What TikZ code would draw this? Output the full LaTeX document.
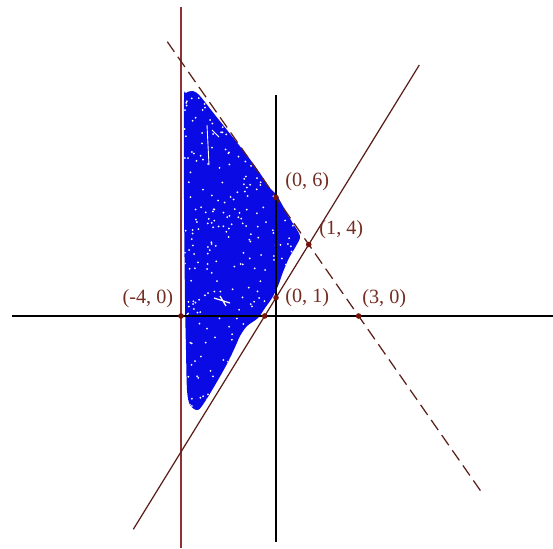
\documentclass[tikz,border=0pt]{standalone}
\usepackage{fontspec}
\setmainfont{Liberation Serif}
\usepackage{tkz-euclide}
\usetikzlibrary{positioning,calc}
\definecolor{BlobClr}{RGB}{10,10,228}
\definecolor{WallClr}{RGB}{140,50,50}
\definecolor{LineClr}{RGB}{90,30,25}
\definecolor{PointClr}{RGB}{115,20,10}
\definecolor{TextClr}{RGB}{115,45,35}
\tikzset{lbl/.style={inner sep=0pt,text=TextClr,font=\fontsize{11.5}{13}\selectfont},
  axis/.style={black,line width=.9pt},
  edge/.style={LineClr,line width=.7pt}}

\begin{document}
\begin{tikzpicture}[x=0.02cm,y=0.02cm]
\useasboundingbox (0,0) rectangle (553,-548);

\tkzDefPoint(12,-316){X1}
\tkzDefPoint(553,-316){X2}
\tkzDefPoint(276,-95){Y1}
\tkzDefPoint(276,-542){Y2}
\tkzDefPoint(181,-7){V1}
\tkzDefPoint(181,-548){V2}
\tkzDefPoint(167.3,-41.7){P1}
\tkzDefPoint(481.6,-492.3){P2}
\tkzDefPoint(133.3,-529.3){S1}
\tkzDefPoint(419.3,-65){S2}

\coordinate (A) at (intersection of V1--V2 and X1--X2);
\coordinate (B) at (intersection of S1--S2 and Y1--Y2);
\coordinate (C) at (intersection of P1--P2 and Y1--Y2);
\coordinate (D) at (intersection of S1--S2 and P1--P2);
\coordinate (E) at (intersection of P1--P2 and X1--X2);
\coordinate (F) at (intersection of S1--S2 and X1--X2);

% the cloud of points
\begin{scope}
\clip plot[smooth cycle,tension=.5] coordinates {(184,-100) (186,-93) (193,-91)
  (200,-96) (215,-115) (235,-140) (255,-166) (270,-188) (276,-194) (284,-208)
  (292,-222) (300,-236) (296,-246) (289,-258) (283,-272) (278,-286) (272,-298)
  (265,-308) (258,-318) (247,-326) (240,-336) (236,-345) (228,-362) (218,-380)
  (206,-400) (198,-410) (190,-405) (187,-390) (186,-350) (185,-300) (184,-200)};
\fill[BlobClr] (175,-85) rectangle (305,-415);
\pgfmathsetseed{42}
\foreach \k in {1,...,340}{
  \pgfmathsetmacro{\sx}{184+116*rnd}
  \pgfmathsetmacro{\sy}{-90-320*rnd}
  \fill[white] (\sx,\sy) circle (1);
}
\draw[white,line width=.5pt] (207,-125) -- (209,-165) (212,-130) -- (219,-137);
\draw[white,line width=.7pt] (214,-298) -- (230,-303) (220,-296) -- (226,-306);
\end{scope}

\draw[WallClr,line width=1pt] (V1) -- (V2);
\draw[axis] (X1) -- (X2);
\draw[axis] (Y1) -- (Y2);
\draw[edge] (S1) -- (S2);
\draw[edge,dash pattern=on 7pt off 3.5pt] (P1) -- (P2);

\foreach \p in {A,B,C,D,E,F}
  \fill[PointClr] (\p) circle (2.8);

\node (labA) [lbl,above left=4.7pt and 4.3pt of A] {(-4, 0)};
\node (labB) [lbl,right=5.1pt of B] {(0, 1)};
\node (labC) [lbl,above right=3.6pt and 5.1pt of C] {(0, 6)};
\node (labD) [lbl,above right=3.3pt and 5.9pt of D] {(1, 4)};
\node (labE) [lbl,above right=4.3pt and 1.9pt of E] {(3, 0)};

\end{tikzpicture}
\end{document}
